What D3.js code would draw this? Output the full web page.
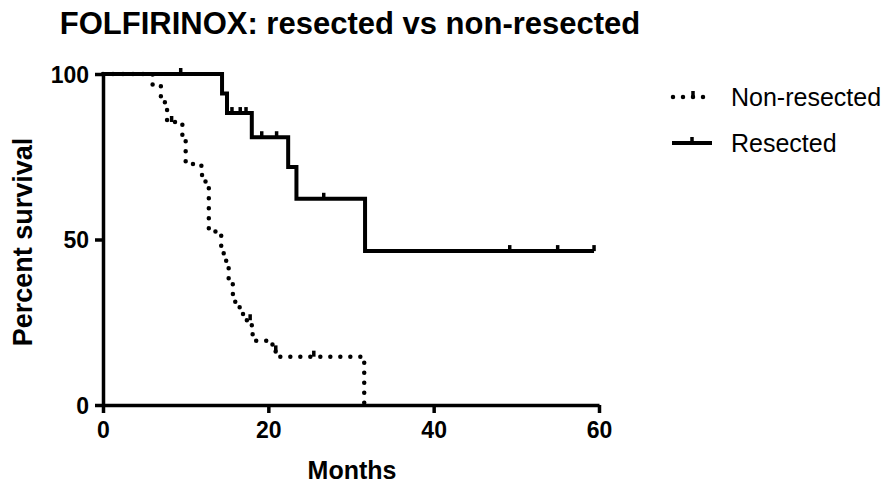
<!DOCTYPE html>
<html>
<head>
<meta charset="utf-8">
<script src="https://cdn.jsdelivr.net/npm/d3@7"></script>
<style>
  body { margin: 0; background: #fff; }
  svg { font-family: "Liberation Sans", Arial, sans-serif; }
</style>
</head>
<body>
<div id="chart"></div>
<script>
// survival data (months, percent)
const nonResectedTimes = [0, 6.0, 7.0, 7.75, 9.6, 10.0, 11.9, 12.4, 12.8, 14.3, 14.6, 14.9, 15.2, 15.7, 16.0, 16.9, 17.4, 18.0, 18.1, 20.5, 21.1, 31.6];
const nonResectedSurvival = [100, 96.5, 91.5, 85.5, 81, 72.8, 69.5, 67, 52.4, 46.7, 44.2, 41.5, 37, 33.5, 29.5, 27.5, 25.6, 22.3, 19.4, 16.2, 14.6, 0];
const nonResectedCensored = [8.3, 17.8, 20.9, 25.5];

const resectedTimes = [0, 14.4, 15.0, 18.0, 22.4, 23.4, 31.7];
const resectedSurvival = [100, 94.1, 88.2, 80.9, 71.9, 62.3, 46.5];
const resectedCensored = [9.4, 15.6, 16.6, 17.3, 19.2, 21.0, 26.7, 49.2, 55.0, 59.4];

const monthTicks = [0, 20, 40, 60];
const percentTicks = [0, 50, 100];
const seriesNames = ["Non-resected", "Resected"];

const W = 893, H = 485;
const svg = d3.select("#chart").append("svg")
    .attr("width", W)
    .attr("height", H);

const x = d3.scaleLinear().domain([0, 60]).range([103, 599]);
const y = d3.scaleLinear().domain([0, 100]).range([405, 74]);

// title
svg.append("text")
    .attr("x", 350).attr("y", 34)
    .attr("text-anchor", "middle")
    .style("font-weight", "bold")
    .style("font-size", "31px")
    .text("FOLFIRINOX: resected vs non-resected");

// axes
const yAxis = svg.append("g")
    .attr("transform", "translate(103,0)")
    .call(d3.axisLeft(y).tickValues(percentTicks).tickSize(8).tickSizeOuter(0).tickPadding(6));

const xAxis = svg.append("g")
    .attr("transform", "translate(0,405)")
    .call(d3.axisBottom(x).tickValues(monthTicks).tickSize(8).tickSizeOuter(0).tickPadding(9));

[xAxis, yAxis].forEach(g => {
    g.select(".domain").attr("stroke", "#000").attr("stroke-width", 3.5);
    g.selectAll(".tick line").attr("stroke", "#000").attr("stroke-width", 3.5);
    g.selectAll(".tick text")
        .attr("fill", "#000")
        .style("font-family", '"Liberation Sans", Arial, sans-serif')
        .style("font-weight", "bold")
        .style("font-size", "23px");
});
yAxis.selectAll(".tick text").attr("dy", "0.36em");

svg.append("text")
    .attr("x", 352).attr("y", 479)
    .attr("text-anchor", "middle")
    .style("font-weight", "bold")
    .style("font-size", "25px")
    .text("Months");

svg.append("text")
    .attr("transform", "translate(32,242) rotate(-90)")
    .attr("text-anchor", "middle")
    .style("font-weight", "bold")
    .style("font-size", "27px")
    .text("Percent survival");

// step curves
const line = d3.line()
    .x(d => x(d[0]))
    .y(d => y(d[1]))
    .curve(d3.curveStepAfter);

function stepValue(times, surv, t) {
    const i = d3.bisectRight(times, t) - 1;
    return surv[Math.max(0, i)];
}

function curvePoints(times, surv, censored) {
    const pts = times.map((t, i) => [t, surv[i]]);
    const end = d3.max(censored);
    if (end > times[times.length - 1]) pts.push([end, surv[surv.length - 1]]);
    return pts;
}

const nonPts = curvePoints(nonResectedTimes, nonResectedSurvival, nonResectedCensored);
const resPts = curvePoints(resectedTimes, resectedSurvival, resectedCensored);

svg.append("path")
    .attr("d", line(nonPts))
    .attr("fill", "none")
    .attr("stroke", "#000")
    .attr("stroke-width", 4.5)
    .attr("stroke-linecap", "round")
    .attr("stroke-dasharray", "0 10");

svg.append("path")
    .attr("d", line(resPts))
    .attr("fill", "none")
    .attr("stroke", "#000")
    .attr("stroke-width", 4);

// censor ticks
svg.selectAll(".cens-non")
    .data(nonResectedCensored)
    .enter().append("line")
    .attr("x1", d => x(d)).attr("x2", d => x(d))
    .attr("y1", d => y(stepValue(nonResectedTimes, nonResectedSurvival, d)))
    .attr("y2", d => y(stepValue(nonResectedTimes, nonResectedSurvival, d)) - 6)
    .attr("stroke", "#000")
    .attr("stroke-width", 3.5);

svg.selectAll(".cens-res")
    .data(resectedCensored)
    .enter().append("line")
    .attr("x1", d => x(d)).attr("x2", d => x(d))
    .attr("y1", d => y(stepValue(resectedTimes, resectedSurvival, d)))
    .attr("y2", d => y(stepValue(resectedTimes, resectedSurvival, d)) - 6)
    .attr("stroke", "#000")
    .attr("stroke-width", 3.5);

// legend
const legend = svg.append("g");
legend.append("line")
    .attr("x1", 673).attr("x2", 707).attr("y1", 97).attr("y2", 97)
    .attr("stroke", "#000").attr("stroke-width", 4.5)
    .attr("stroke-linecap", "round").attr("stroke-dasharray", "0 10");
legend.append("line")
    .attr("x1", 693).attr("x2", 693).attr("y1", 97).attr("y2", 91)
    .attr("stroke", "#000").attr("stroke-width", 3.5);
legend.append("line")
    .attr("x1", 672).attr("x2", 712).attr("y1", 143).attr("y2", 143)
    .attr("stroke", "#000").attr("stroke-width", 4);
legend.append("line")
    .attr("x1", 692).attr("x2", 692).attr("y1", 143).attr("y2", 137)
    .attr("stroke", "#000").attr("stroke-width", 3.5);

legend.selectAll("text")
    .data(seriesNames)
    .enter().append("text")
    .attr("x", 731)
    .attr("y", (d, i) => 106 + i * 46)
    .style("font-size", "25px")
    .text(d => d);
</script>
</body>
</html>
